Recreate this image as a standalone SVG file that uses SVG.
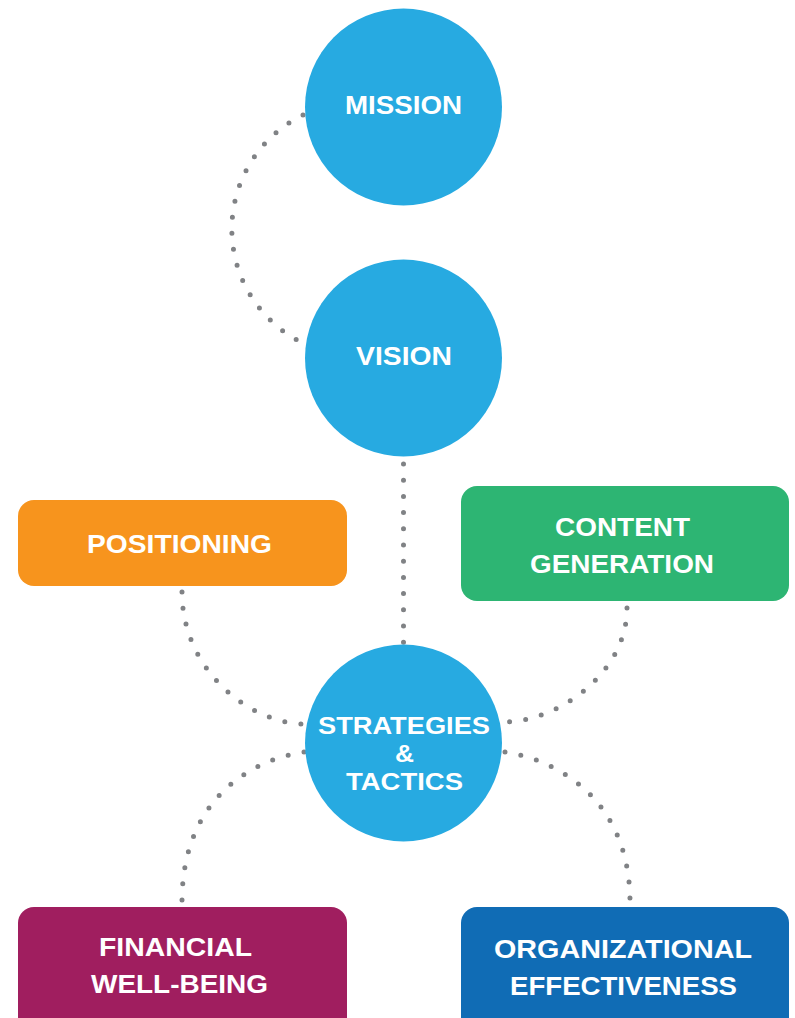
<svg xmlns="http://www.w3.org/2000/svg" width="795" height="1018" viewBox="0 0 795 1018">
<style>
.dot{fill:none;stroke:#808285;stroke-width:5;stroke-linecap:round;stroke-dasharray:0 16.2}
.c{fill:#27AAE1}
.t{fill:#fff;font-family:"Liberation Sans",Arial,sans-serif;font-weight:bold;font-size:26.5px;text-anchor:middle}
.s{font-size:23.5px}
</style>
<rect width="795" height="1018" fill="#fff"/>
<g id="connectors">
<path class="dot" d="M303,115 A127,127 0 0 0 297,340"/>
<path class="dot" d="M403.5,464 L403.5,644"/>
<path class="dot" d="M182,592 C182,670 250,724 305,724"/>
<path class="dot" d="M627,608 C627,675 555,722 505,722"/>
<path class="dot" d="M304,752 C250,760 182,800 182,902"/>
<path class="dot" d="M505,752 C558,760 630,800 630,902"/>
</g>
<g id="mission">
<circle class="c" cx="403.5" cy="107" r="98.5"/>
<text class="t" x="403.5" y="114" textLength="117" lengthAdjust="spacingAndGlyphs">MISSION</text>
</g>
<g id="vision">
<circle class="c" cx="403.5" cy="358" r="98.5"/>
<text class="t" x="404" y="365" textLength="96" lengthAdjust="spacingAndGlyphs">VISION</text>
</g>
<g id="strategies">
<circle class="c" cx="403.5" cy="743" r="98.5"/>
<text class="t s" x="404" y="734" textLength="172" lengthAdjust="spacingAndGlyphs">STRATEGIES</text>
<text class="t s" x="404.5" y="762" textLength="19" lengthAdjust="spacingAndGlyphs">&amp;</text>
<text class="t s" x="404.5" y="790" textLength="117" lengthAdjust="spacingAndGlyphs">TACTICS</text>
</g>
<g id="positioning">
<rect x="18" y="500" width="329" height="86" rx="16" fill="#F7941D"/>
<text class="t" x="179.5" y="553" textLength="185" lengthAdjust="spacingAndGlyphs">POSITIONING</text>
</g>
<g id="content">
<rect x="461" y="486" width="328" height="115" rx="16" fill="#2DB573"/>
<text class="t" x="622.5" y="536" textLength="135" lengthAdjust="spacingAndGlyphs">CONTENT</text>
<text class="t" x="622" y="573" textLength="184" lengthAdjust="spacingAndGlyphs">GENERATION</text>
</g>
<g id="financial">
<rect x="18" y="907" width="329" height="140" rx="16" fill="#A01E5F"/>
<text class="t" x="175.5" y="956" textLength="153" lengthAdjust="spacingAndGlyphs">FINANCIAL</text>
<text class="t" x="179.5" y="993" textLength="177" lengthAdjust="spacingAndGlyphs">WELL-BEING</text>
</g>
<g id="organizational">
<rect x="461" y="907" width="328" height="140" rx="16" fill="#106CB5"/>
<text class="t" x="623" y="958" textLength="258" lengthAdjust="spacingAndGlyphs">ORGANIZATIONAL</text>
<text class="t" x="623.5" y="995" textLength="227" lengthAdjust="spacingAndGlyphs">EFFECTIVENESS</text>
</g>
</svg>
